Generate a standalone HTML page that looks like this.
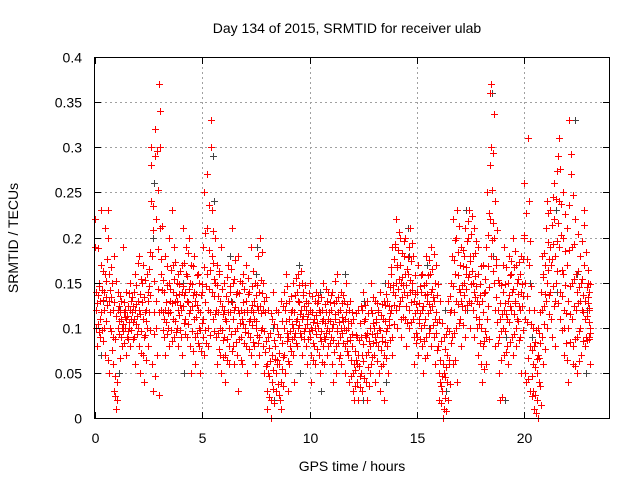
<!DOCTYPE html>
<html><head><meta charset="utf-8"><style>
body{margin:0;background:#fff;}
svg{display:block;font-family:"Liberation Sans",sans-serif;}
</style></head><body>
<svg id="chart" width="640" height="480" viewBox="0 0 640 480">
<rect width="640" height="480" fill="#fff"/>
<g id="grid"></g>
<g id="gray"></g>
<g id="red"></g>
<rect x="94.5" y="57.5" width="515" height="361" fill="none" stroke="#000" stroke-width="1"/>
<g id="axes"></g>
<text x="347" y="33" font-size="14" text-anchor="middle">Day 134 of 2015, SRMTID for receiver ulab</text>
<text x="352" y="471" font-size="14" text-anchor="middle">GPS time / hours</text>
<text x="18" y="238" font-size="14" text-anchor="middle" transform="rotate(-90 18 238)">SRMTID / TECUs</text>
</svg>
<script>
const xTicks=[0,5,10,15,20];
const yTicks=[0,0.05,0.1,0.15,0.2,0.25,0.3,0.35,0.4];
const yTickLabels=["0","0.05","0.1","0.15","0.2","0.25","0.3","0.35","0.4"];
const redRows=[
[0.0,.19,.22,.12,.10,.14,.08],[0.2,.15,.11,.13,.09,.17,.23],[0.4,.12,.14,.10,.07,.16,.21],[0.6,.23,.20,.16,.13,.05,.10],
[0.8,.15,.12,.09,.06,.03,.18],[1.0,.01,.02,.04,.10,.12,.14],[1.2,.11,.09,.13,.10,.08,.19],[1.4,.12,.10,.14,.07,.11,.09],
[1.6,.10,.12,.08,.15,.13,.11],[1.8,.14,.09,.11,.06,.12,.16],[2.0,.13,.10,.08,.18,.12,.05],[2.2,.15,.07,.11,.17,.09,.04],
[2.4,.12,.16,.10,.14,.08,.13],[2.6,.24,.28,.30,.18,.06,.03],[2.8,.32,.29,.22,.13,.10,.07],[3.0,.37,.34,.30,.21,.16,.12],
[3.2,.14,.11,.09,.18,.12,.07],[3.4,.12,.10,.15,.20,.08,.13],[3.6,.23,.17,.14,.11,.09,.19],[3.8,.15,.13,.10,.16,.08,.12],
[4.0,.12,.09,.17,.14,.07,.21],[4.2,.14,.11,.19,.16,.09,.13],[4.4,.20,.15,.12,.08,.05,.17],[4.6,.18,.14,.11,.09,.13,.06],
[4.8,.16,.12,.10,.08,.15,.05],[5.0,.14,.19,.11,.09,.07,.25],[5.2,.21,.27,.16,.12,.08,.10],[5.4,.30,.33,.23,.18,.14,.11],
[5.6,.20,.15,.12,.09,.06,.17],[5.8,.16,.13,.10,.07,.05,.19],[6.0,.12,.09,.15,.07,.04,.11],[6.2,.17,.13,.10,.08,.06,.14],
[6.4,.21,.15,.11,.08,.12,.06],[6.6,.14,.10,.07,.12,.18,.03],[6.8,.12,.09,.15,.06,.11,.16],[7.0,.10,.13,.08,.17,.12,.05],
[7.2,.14,.11,.09,.07,.19,.12],[7.4,.11,.08,.13,.15,.06,.10],[7.6,.18,.12,.09,.14,.07,.20],[7.8,.10,.15,.08,.12,.05,.13],
[8.0,.06,.03,.01,.09,.12,.05],[8.2,.02,.00,.07,.11,.04,.14],[8.4,.08,.05,.03,.12,.10,.06],[8.6,.06,.02,.09,.04,.13,.01],
[8.8,.10,.14,.07,.12,.05,.16],[9.0,.09,.03,.11,.06,.13,.08],[9.2,.12,.07,.10,.15,.04,.09],[9.4,.14,.11,.08,.16,.13,.10],
[9.6,.12,.09,.15,.11,.07,.14],[9.8,.10,.13,.08,.12,.06,.11],[10.0,.09,.12,.15,.07,.10,.04],[10.2,.11,.08,.13,.06,.10,.14],
[10.4,.13,.10,.07,.12,.09,.05],[10.6,.12,.08,.15,.11,.06,.09],[10.8,.10,.13,.07,.11,.14,.08],[11.0,.12,.09,.06,.14,.10,.04],
[11.2,.11,.08,.13,.05,.10,.16],[11.4,.09,.12,.07,.14,.10,.06],[11.6,.13,.10,.08,.11,.05,.15],[11.8,.10,.07,.12,.04,.09,.13],
[12.0,.08,.05,.03,.11,.06,.02],[12.2,.06,.04,.09,.02,.12,.07],[12.4,.09,.05,.12,.03,.07,.14],[12.6,.11,.07,.04,.09,.13,.02],
[12.8,.08,.05,.10,.12,.06,.15],[13.0,.10,.07,.13,.04,.09,.11],[13.2,.12,.08,.05,.10,.14,.03],[13.4,.09,.11,.06,.13,.07,.02],
[13.6,.13,.10,.08,.15,.05,.11],[13.8,.16,.12,.09,.07,.19,.14],[14.0,.19,.15,.22,.12,.10,.17],[14.2,.17,.20,.13,.11,.15,.09],
[14.4,.14,.18,.11,.16,.20,.08],[14.6,.16,.12,.19,.10,.14,.21],[14.8,.15,.11,.18,.13,.09,.06],[15.0,.12,.09,.14,.17,.07,.11],
[15.2,.14,.10,.16,.08,.12,.05],[15.4,.11,.15,.09,.18,.13,.07],[15.6,.16,.12,.10,.19,.14,.08],[15.8,.13,.09,.15,.06,.11,.17],
[16.0,.08,.05,.02,.11,.04,.13],[16.2,.03,.00,.06,.01,.09,.05],[16.4,.07,.04,.10,.02,.13,.06],[16.6,.12,.15,.09,.18,.22,.06],
[16.8,.16,.20,.13,.10,.23,.04],[17.0,.14,.11,.17,.08,.19,.13],[17.2,.18,.15,.21,.12,.09,.16],[17.4,.20,.16,.13,.23,.10,.18],
[17.6,.15,.12,.18,.09,.14,.21],[17.8,.13,.10,.16,.07,.19,.11],[18.0,.10,.06,.13,.04,.08,.17],[18.2,.14,.09,.19,.06,.11,.25],
[18.4,.28,.22,.36,.37,.18,.30],[18.6,.20,.15,.24,.12,.08,.17],[18.8,.12,.09,.15,.05,.02,.11],[19.0,.14,.10,.17,.07,.12,.19],
[19.2,.11,.08,.15,.13,.06,.18],[19.4,.16,.12,.09,.14,.20,.07],[19.6,.13,.10,.17,.08,.15,.11],[19.8,.12,.16,.09,.05,.14,.18],
[20.0,.26,.20,.15,.11,.05,.04],[20.2,.31,.24,.17,.12,.08,.03],[20.4,.10,.06,.03,.01,.08,.12],[20.6,.05,.02,.00,.07,.10,.04],
[20.8,.14,.18,.09,.12,.06,.16],[21.0,.17,.21,.13,.24,.10,.15],[21.2,.23,.19,.14,.11,.17,.09],[21.4,.26,.22,.18,.13,.08,.15],
[21.6,.29,.31,.24,.19,.14,.11],[21.8,.25,.20,.16,.12,.07,.10],[22.0,.21,.17,.13,.10,.04,.33],[22.2,.27,.19,.15,.11,.08,.06],
[22.4,.22,.16,.12,.09,.14,.05],[22.6,.18,.13,.10,.07,.15,.12],[22.8,.23,.17,.11,.08,.13,.09],[23.0,.15,.12,.09,.14,.06,.10]
];
const redRows2=[
[0.1,.127,.104,.136,.188,.095,.146],[0.3,.118,.142,.097,.163,.085,.131],[0.5,.134,.108,.152,.176,.125,.064],[0.7,.142,.118,.096,.167,.134,.075],
[0.9,.128,.087,.046,.024,.113,.152],[1.1,.108,.124,.093,.135,.066,.117],[1.3,.104,.096,.118,.128,.083,.112],[1.5,.113,.096,.124,.087,.106,.138],
[1.7,.098,.117,.134,.106,.124,.088],[1.9,.126,.104,.147,.093,.113,.172],[2.1,.115,.137,.096,.154,.072,.128],[2.3,.134,.092,.117,.153,.064,.108],
[2.5,.146,.118,.165,.097,.136,.184],[2.7,.208,.235,.152,.118,.093,.047],[2.9,.296,.253,.187,.143,.118,.026],[3.1,.176,.213,.142,.118,.097,.153],
[3.3,.128,.106,.147,.093,.168,.116],[3.5,.143,.117,.098,.164,.127,.085],[3.7,.154,.129,.108,.173,.136,.095],[3.9,.137,.114,.148,.097,.125,.163],
[4.1,.124,.146,.105,.172,.136,.093],[4.3,.157,.128,.104,.183,.143,.116],[4.5,.148,.124,.096,.168,.136,.074],[4.7,.137,.112,.158,.094,.125,.083],
[4.9,.118,.097,.136,.074,.105,.148],[5.1,.167,.128,.205,.097,.146,.083],[5.3,.236,.186,.143,.118,.092,.164],[5.5,.207,.172,.135,.096,.154,.115],
[5.7,.147,.118,.094,.135,.076,.163],[5.9,.124,.097,.143,.068,.115,.086],[6.1,.135,.108,.087,.156,.064,.117],[6.3,.146,.118,.093,.165,.074,.128],
[6.5,.154,.123,.096,.175,.084,.137],[6.7,.116,.138,.088,.105,.152,.064],[6.9,.128,.104,.143,.083,.117,.095],[7.1,.118,.137,.094,.155,.107,.076],
[7.3,.125,.103,.146,.084,.117,.163],[7.5,.136,.108,.092,.124,.147,.083],[7.7,.124,.153,.097,.116,.138,.184],[7.9,.096,.117,.073,.134,.085,.058],
[8.1,.078,.046,.023,.094,.063,.116],[8.3,.053,.032,.086,.017,.104,.065],[8.5,.064,.093,.038,.118,.072,.025],[8.7,.083,.054,.107,.036,.124,.068],
[8.9,.108,.127,.085,.146,.094,.063],[9.1,.096,.118,.074,.135,.087,.104],[9.3,.117,.094,.136,.083,.108,.155],[9.5,.128,.103,.147,.094,.115,.163],
[9.7,.113,.136,.096,.124,.087,.147],[9.9,.104,.127,.088,.115,.096,.138],[10.1,.097,.118,.135,.083,.106,.064],[10.3,.114,.093,.127,.076,.105,.136],
[10.5,.118,.096,.134,.085,.107,.062],[10.7,.105,.126,.088,.117,.094,.143],[10.9,.117,.096,.128,.083,.108,.136],[11.1,.104,.086,.127,.073,.115,.152],
[11.3,.096,.118,.083,.134,.106,.067],[11.5,.112,.094,.127,.083,.107,.136],[11.7,.097,.118,.085,.126,.074,.108],[11.9,.086,.064,.105,.047,.093,.118],
[12.1,.074,.053,.036,.092,.064,.116],[12.3,.058,.086,.034,.105,.046,.124],[12.5,.082,.063,.107,.044,.092,.125],[12.7,.094,.073,.056,.116,.085,.036],
[12.9,.093,.068,.116,.083,.105,.134],[13.1,.106,.084,.127,.063,.094,.117],[13.3,.097,.075,.114,.058,.126,.085],[13.5,.108,.084,.125,.066,.096,.137],
[13.7,.124,.103,.145,.086,.116,.167],[13.9,.147,.125,.176,.104,.136,.193],[14.1,.167,.143,.186,.124,.154,.206],[14.3,.156,.134,.183,.112,.147,.196],
[14.5,.147,.124,.165,.105,.136,.178],[14.7,.153,.128,.174,.106,.142,.194],[14.9,.137,.116,.158,.094,.126,.083],[15.1,.127,.105,.146,.087,.116,.158],
[15.3,.124,.103,.147,.085,.136,.067],[15.5,.137,.116,.158,.094,.126,.175],[15.7,.143,.124,.165,.103,.134,.182],[15.9,.117,.094,.136,.075,.106,.148],
[16.1,.064,.036,.085,.017,.105,.047],[16.3,.045,.022,.076,.008,.093,.057],[16.5,.096,.064,.117,.038,.135,.083],[16.7,.146,.118,.175,.094,.197,.064],
[16.9,.158,.126,.184,.105,.213,.143],[17.1,.147,.124,.168,.103,.186,.136],[17.3,.167,.143,.196,.125,.156,.218],[17.5,.174,.148,.204,.127,.163,.224],
[17.7,.157,.134,.183,.112,.146,.196],[17.9,.126,.104,.148,.083,.136,.168],[18.1,.117,.085,.138,.054,.096,.154],[18.3,.168,.124,.203,.087,.145,.227],
[18.5,.253,.197,.294,.163,.216,.337],[18.7,.176,.134,.208,.106,.153,.083],[18.9,.127,.096,.147,.064,.115,.023],[19.1,.127,.096,.148,.073,.115,.167],
[19.3,.136,.106,.158,.084,.124,.174],[19.5,.143,.115,.167,.093,.127,.185],[19.7,.137,.107,.154,.086,.124,.173],[19.9,.148,.124,.176,.097,.135,.203],
[20.1,.227,.176,.135,.106,.067,.043],[20.3,.196,.146,.104,.075,.046,.024],[20.5,.084,.057,.026,.005,.097,.065],[20.7,.094,.067,.035,.118,.083,.014],
[20.9,.156,.124,.183,.104,.137,.076],[21.1,.195,.164,.227,.136,.176,.115],[21.3,.214,.176,.245,.146,.193,.124],[21.5,.243,.196,.274,.163,.216,.127],
[21.7,.276,.237,.203,.164,.135,.097],[21.9,.226,.185,.147,.116,.083,.064],[22.1,.236,.186,.146,.115,.084,.293],[22.3,.247,.193,.154,.124,.087,.058],
[22.5,.204,.163,.127,.096,.145,.063],[22.7,.196,.154,.117,.085,.136,.214],[22.9,.184,.145,.113,.086,.127,.164],[23.0,.134,.106,.087,.122,.148,.094]
];
const grayRows=[
[0.3,.07,.13],[1.1,.05,.12],[2.7,.20,.26],[3.0,.37,.21],[4.1,.15,.05],[5.5,.29,.24],[6.3,.18,.13],[7.5,.16,.19],
[8.3,.10,.02],[9.5,.17,.05],[10.5,.14,.03],[11.6,.10,.16],[12.5,.02,.13],[13.5,.15,.04],[14.6,.21,.18],[15.5,.17,.10],
[16.3,.12,.03],[17.3,.23,.12],[18.5,.36,.18],[19.1,.02,.09],[20.3,.15,.09],[21.5,.23,.14],[22.4,.33,.16],[22.9,.05,.12]
];
const X0=95,XS=21.45,Y0=418,YS=902.5;
const xs=t=>X0+t*XS, ys=v=>Y0-v*YS;
const NS="http://www.w3.org/2000/svg";
function mk(tag,attrs,parent){const e=document.createElementNS(NS,tag);for(const k in attrs)e.setAttribute(k,attrs[k]);parent.appendChild(e);return e;}
const grid=document.getElementById('grid'),axes=document.getElementById('axes');
xTicks.forEach(t=>{const x=Math.round(xs(t))+0.5;
 if(t>0){const l=mk('line',{x1:x,x2:x,y1:57,y2:418,stroke:'#a0a0a0','stroke-dasharray':'2,3'},grid);
 
 }
 const tk=mk('text',{x:x,y:443,'font-size':14,'text-anchor':'middle'},axes);tk.textContent=t;
 
 
 const m=mk('path',{d:`M${x} 418V412M${x} 58V64`,stroke:'#000'},axes);
 
 
});
yTicks.forEach((v,i)=>{const y=Math.round(ys(v))+0.5;
 if(v>0&&v<0.4){const l=mk('line',{x1:95,x2:609,y1:y,y2:y,stroke:'#a0a0a0','stroke-dasharray':'2,3'},grid);
 
 }
 const tk=mk('text',{x:82,y:y+5,'font-size':14,'text-anchor':'end'},axes);tk.textContent=yTickLabels[i];
 
 
 const m=mk('path',{d:`M95 ${y}H101M609 ${y}H603`,stroke:'#000'},axes);
 
 
});
function draw(rows,g,color,name,span){
 rows.forEach(r=>{const t=r[0],n=r.length-1;
  for(let i=1;i<=n;i++){const x=Math.round(xs(t+(i-1)*span/n))+0.5,y=Math.round(ys(r[i]))+0.5;
   const p=mk('path',{d:`M${x-3.5} ${y}H${x+3.5}M${x} ${y-3.5}V${y+3.5}`,stroke:color,'stroke-width':1},g);
   
   
  }});
}
draw(grayRows,document.getElementById('gray'),'#444','gray-point',0.1);
draw(redRows,document.getElementById('red'),'#ff0000','red-point',0.1);
draw(redRows2,document.getElementById('red'),'#ff0000','red-point',0.1);
</script>
</body></html>
